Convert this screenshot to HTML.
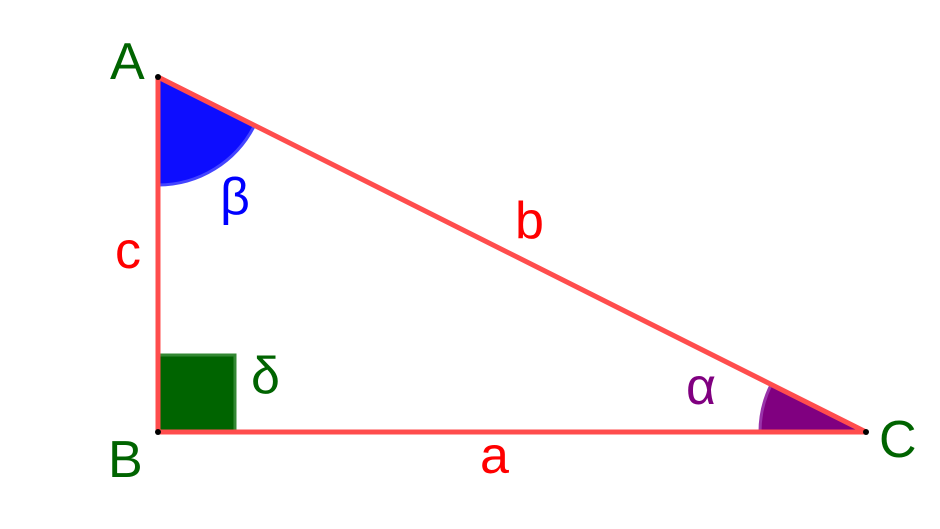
<!DOCTYPE html>
<html><head><style>body{margin:0;background:#fff}svg{display:block}</style></head><body>
<svg width="940" height="529" xmlns="http://www.w3.org/2000/svg" font-family="Liberation Sans, sans-serif">
<rect x="0" y="0" width="940" height="529" fill="#fff"/>
<path d="M158,77 L158,185 A108,108 0 0 0 254.5,125.4 Z" fill="#0000ff" stroke="#4444ff" stroke-width="3" fill-opacity="0.95"/>
<path d="M866,432 L760,432 A106,106 0 0 1 771.2,384.5 Z" fill="#800080" stroke="#9933aa" stroke-width="3"/>
<rect x="158" y="355" width="77" height="77" fill="#006400" stroke="#338833" stroke-width="3"/>
<g stroke="#ff4d4d" stroke-width="5" fill="none" stroke-linecap="round">
<line x1="158" y1="77" x2="158" y2="432"/>
<line x1="158" y1="432" x2="866" y2="432"/>
<line x1="158" y1="77" x2="866" y2="432"/>
</g>
<g fill="#000"><circle cx="158" cy="77" r="3"/><circle cx="158" cy="432" r="3"/><circle cx="866" cy="432" r="3"/></g>
<g font-size="52" fill="#006400">
<text x="110" y="79">A</text>
<text x="108" y="477">B</text>
<text x="879" y="457">C</text>
<text x="251" y="393">δ</text>
</g>
<g font-size="52" fill="#ff0000">
<text x="115" y="268">c</text>
<text x="515" y="238">b</text>
<text x="480" y="473">a</text>
</g>
<text x="220" y="214" font-size="52" fill="#0000ff">β</text>
<text x="686" y="404" font-size="52" fill="#800080">α</text>
</svg>
</body></html>
